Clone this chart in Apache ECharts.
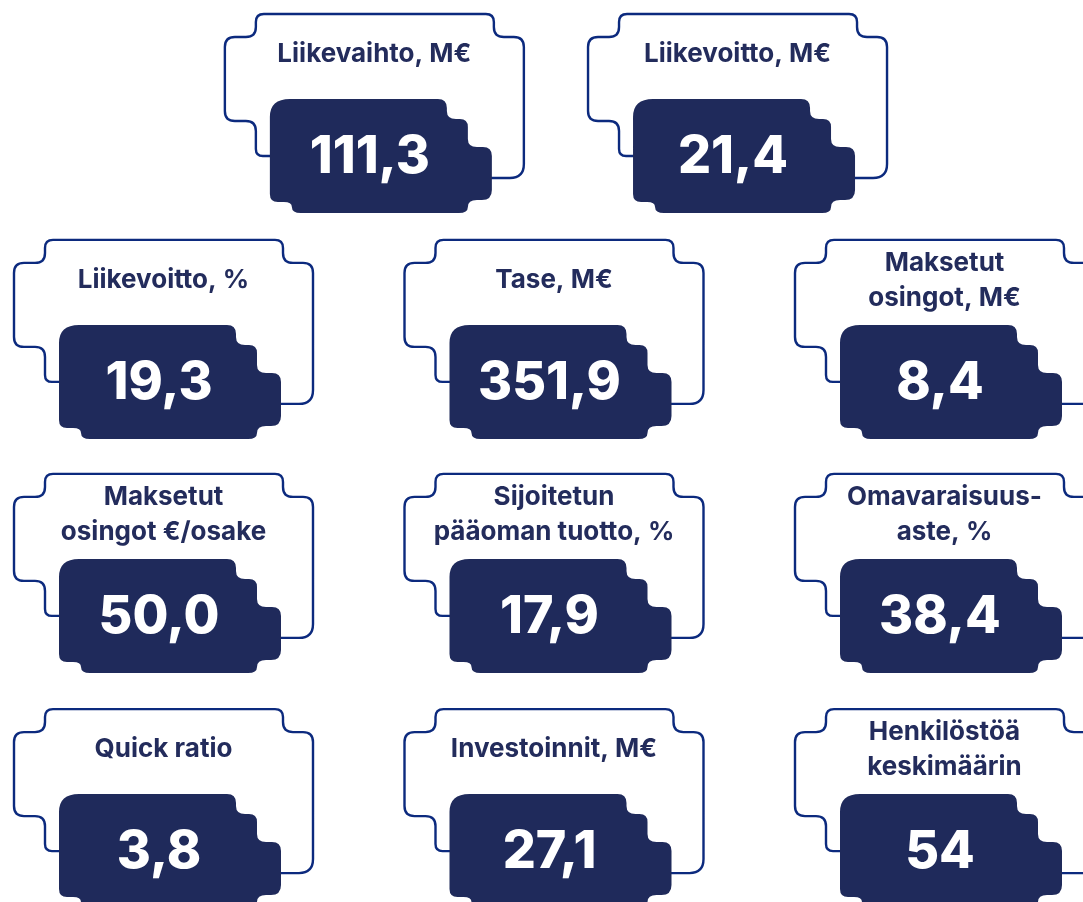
<!DOCTYPE html>
<html>
<head>
<meta charset="utf-8">
<title>Tunnusluvut</title>
<script src="https://cdn.jsdelivr.net/npm/echarts@6/dist/echarts.min.js"></script>
<style>
  html, body { margin: 0; padding: 0; background: #fff; }
  #chart { width: 1083px; height: 902px; }
</style>
</head>
<body>
<div id="chart"></div>
<script>
// tunnusluvut
const labels = [
  'Liikevaihto, M€', 'Liikevoitto, M€',
  'Liikevoitto, %', 'Tase, M€', 'Maksetut\nosingot, M€',
  'Maksetut\nosingot €/osake', 'Sijoitetun\npääoman tuotto, %', 'Omavaraisuus-\naste, %',
  'Quick ratio', 'Investoinnit, M€', 'Henkilöstöä\nkeskimäärin'
];
const values = [111.3, 21.4, 19.3, 351.9, 8.4, 50.0, 17.9, 38.4, 3.8, 27.1, 54];
const decimals = [1, 1, 1, 1, 1, 1, 1, 1, 1, 1, 0];

// asettelu: kortit per rivi ja paikat ruudukossa
const rowSizes = [2, 3, 3, 3];
const rowY = [0, 0.975, 1.985, 3];
const colX = [[0.54, 1.47], [0, 1, 2], [0, 1, 2], [0, 1, 2]];

const NAVY = '#1f2a5b';
const LINE = '#0c2a7e';

const fmt = (v, d) => v.toFixed(d).replace('.', ',');

// kortin muodot, suhteessa tumman laatan vasempaan yläkulmaan
const outlinePath = 'M5 57 L-7 57 Q-14 57 -14 50 L-14 32 Q-14 22 -24 22 L-35 22 Q-45 22 -45 12 ' +
  'L-45 -52 Q-45 -62 -35 -62 L-24 -62 Q-14 -62 -14 -72 L-14 -77 Q-14 -85 -6 -85 ' +
  'L216 -85 Q224 -85 224 -77 L224 -72 Q224 -62 234 -62 L244 -62 Q254 -62 254 -52 ' +
  'L254 65 Q254 79 240 79 L218 79';
const fillPath = 'M0 18 Q0 0 20 0 L168 0 Q177 0 177 9 L177 12 Q177 20 186 20 L190 20 ' +
  'Q198 20 198 28 L198 40 Q198 48 207 48 L213 48 Q222 48 222 57 L222 91 Q222 101 212 101 ' +
  'L207 101 Q198 101 198 108 Q198 114 189 114 L31 114 Q22 114 22 108 Q22 103 14 103 ' +
  'L8 103 Q0 103 0 95 Z';

const cards = [];
let k = 0;
rowSizes.forEach((n, r) => {
  for (let c = 0; c < n; c++) {
    cards.push([colX[r][c], rowY[r], k]);
    k++;
  }
});

const chart = echarts.init(document.getElementById('chart'));

chart.setOption({
  backgroundColor: '#fff',
  animation: false,
  grid: { left: 0, right: 0, top: 0, bottom: 0 },
  xAxis: { type: 'value', min: -59 / 390.5, max: (1083 - 59) / 390.5, show: false },
  yAxis: { type: 'value', inverse: true, min: -99 / 231.7, max: (902 - 99) / 231.7, show: false },
  series: [{
    type: 'custom',
    data: cards,
    encode: { x: 0, y: 1 },
    renderItem: function (params, api) {
      const p = api.coord([api.value(0), api.value(1)]);
      const i = api.value(2);
      return {
        type: 'group',
        x: p[0],
        y: p[1],
        children: [
          {
            type: 'path',
            shape: { pathData: outlinePath },
            style: { fill: 'none', stroke: LINE, lineWidth: 2.4 }
          },
          {
            type: 'path',
            shape: { pathData: fillPath },
            style: { fill: NAVY }
          },
          {
            type: 'text',
            x: 104.5,
            y: -44.5,
            style: {
              text: labels[i],
              fill: '#232c5c',
              fontFamily: 'Inter',
              fontWeight: 700,
              fontSize: 26,
              lineHeight: 35,
              align: 'center',
              verticalAlign: 'middle'
            }
          },
          {
            type: 'text',
            x: 100,
            y: 58,
            style: {
              text: fmt(values[i], decimals[i]),
              fill: '#fff',
              fontFamily: 'Inter',
              fontWeight: 800,
              fontSize: 52,
              align: 'center',
              verticalAlign: 'middle'
            }
          }
        ]
      };
    }
  }]
});

window.addEventListener('resize', function () {
  chart.resize();
});
</script>
</body>
</html>
